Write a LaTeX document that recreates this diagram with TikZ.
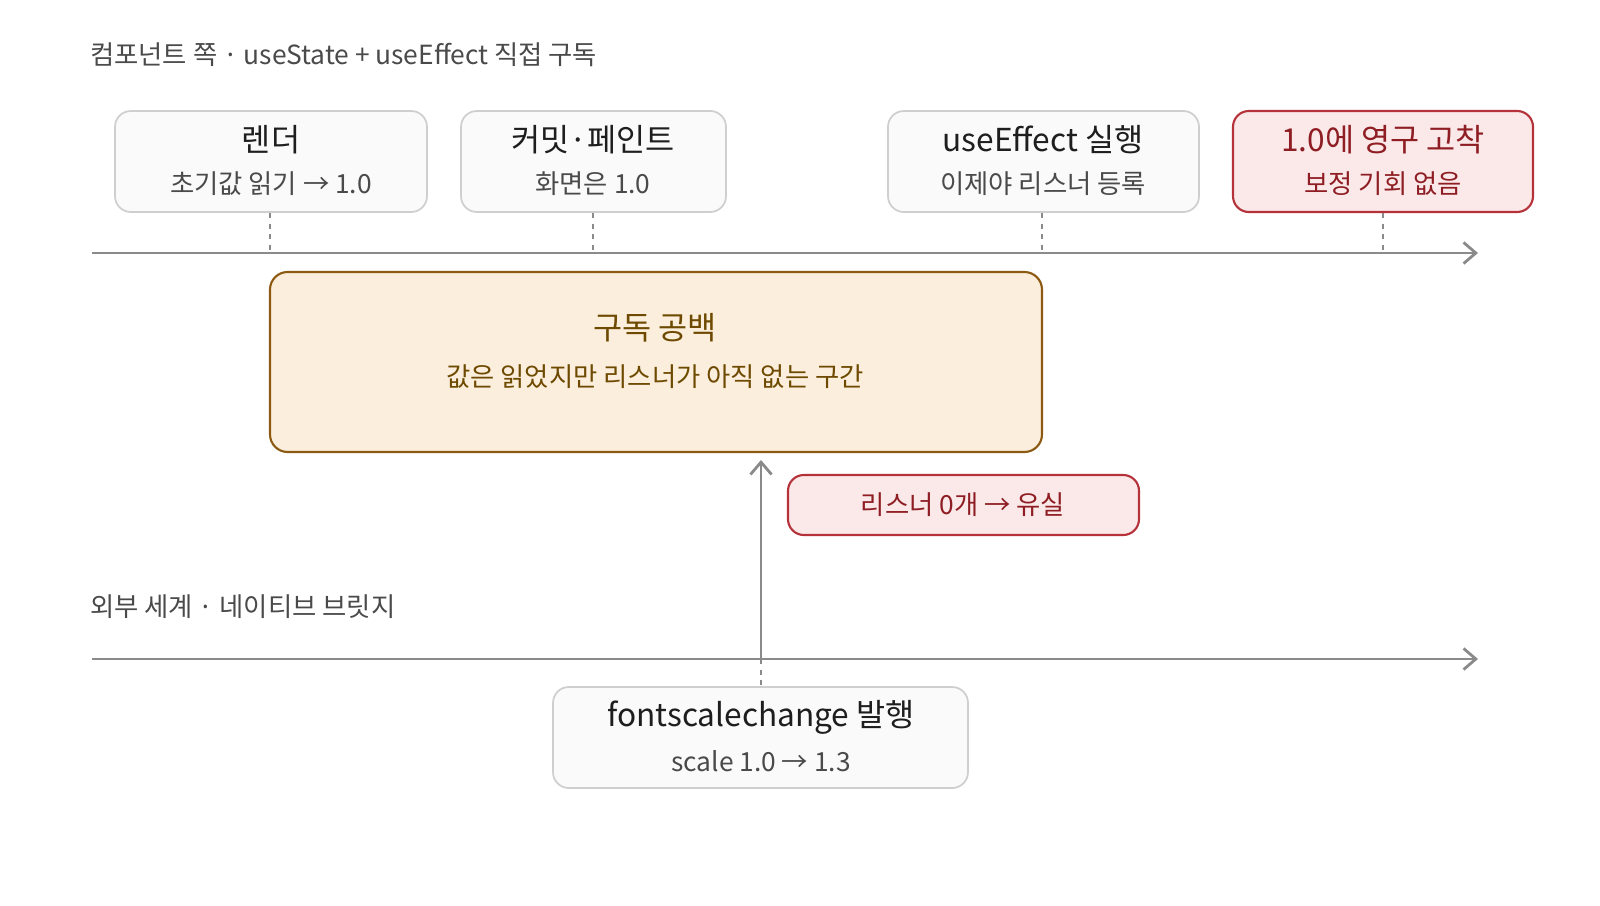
\documentclass[tikz,border=0pt]{standalone}
\usepackage{fontspec}
\setmainfont{Noto Sans CJK KR}
\usetikzlibrary{arrows.meta}
\definecolor{gline}{HTML}{8A8A8A}
\definecolor{gbord}{HTML}{CFCFCF}
\definecolor{gfill}{HTML}{FAFAFA}
\definecolor{rbord}{HTML}{B5323A}
\definecolor{rfill}{HTML}{FBE9E9}
\definecolor{rtext}{HTML}{8E1E24}
\definecolor{obord}{HTML}{8C5A12}
\definecolor{ofill}{HTML}{FBEEDC}
\definecolor{otext}{HTML}{6E4A00}
\definecolor{ttext}{HTML}{1E1E1E}
\definecolor{stext}{HTML}{4A4A4A}
\begin{document}
\begin{tikzpicture}[x=0.02cm,y=-0.02cm,
  box/.style={draw=gbord,fill=gfill,rounded corners=9pt,line width=1pt},
  rbox/.style={draw=rbord,fill=rfill,rounded corners=9pt,line width=1.2pt},
  obox/.style={draw=obord,fill=ofill,rounded corners=10pt,line width=1.2pt},
  ttl/.style={font=\fontsize{18}{20}\selectfont,text=ttext},
  sub/.style={font=\fontsize{15}{18}\selectfont,text=stext},
  lbl/.style={font=\fontsize{15}{18}\selectfont,text=stext,anchor=west},
  axis/.style={draw=gline,line width=1.6pt,-{Straight Barb[length=7pt,width=12pt]}},
  tick/.style={draw=gline,dashed,line width=0.7pt}]
\useasboundingbox (0,0) rectangle (1600,906);
\node[lbl] (t1) at (84,55) {컴포넌트 쪽 · useState + useEffect 직접 구독};
\node[lbl] (t2) at (84,607) {외부 세계 · 네이티브 브릿지};
\coordinate (a1s) at (92,253); \coordinate (a1e) at (1478,253);
\coordinate (a2s) at (92,659); \coordinate (a2e) at (1478,659);
\draw[axis] (a1s) -- (a1e);
\draw[axis] (a2s) -- (a2e);
% top boxes
\draw[box] (115,111) rectangle (427,212);
\node[ttl] (b1) at (271,140) {렌더};
\node[sub] (b1s) at (271,184) {초기값 읽기 → 1.0};
\draw[box] (461,111) rectangle (726,212);
\node[ttl] (b2) at (593,140) {커밋·페인트};
\node[sub] (b2s) at (593,184) {화면은 1.0};
\draw[box] (888,111) rectangle (1199,212);
\node[ttl] (b3) at (1043,140) {useEffect 실행};
\node[sub] (b3s) at (1043,184) {이제야 리스너 등록};
\draw[rbox] (1233,111) rectangle (1533,212);
\node[ttl,text=rtext] (b4) at (1383,140) {1.0에 영구 고착};
\node[sub,text=rtext] (b4s) at (1383,184) {보정 기회 없음};
\foreach \x in {270,593,1042,1383}{\draw[tick] (\x,213) -- (\x,253);}
% gap box
\draw[obox] (270,272) rectangle (1042,452);
\node[ttl,text=otext] (g) at (655,328) {구독 공백};
\node[sub,text=otext] (gs) at (655,377) {값은 읽었지만 리스너가 아직 없는 구간};
% red small
\draw[rbox] (788,475) rectangle (1139,535);
\node[sub,text=rtext] (lost) at (963,505) {리스너 0개 → 유실};
% bottom
\draw[box] (553,687) rectangle (968,788);
\node[ttl] (e) at (761,717) {fontscalechange 발행};
\node[sub] (es) at (761,761) {scale 1.0 → 1.3};
\coordinate (up0) at (761,659); \coordinate (up1) at (761,460);
\draw[tick] (761,659) -- (761,687);
\draw[draw=gline,line width=1.6pt,-{Straight Barb[length=7pt,width=12pt]}] (up0) -- (up1);
\end{tikzpicture}
\end{document}
